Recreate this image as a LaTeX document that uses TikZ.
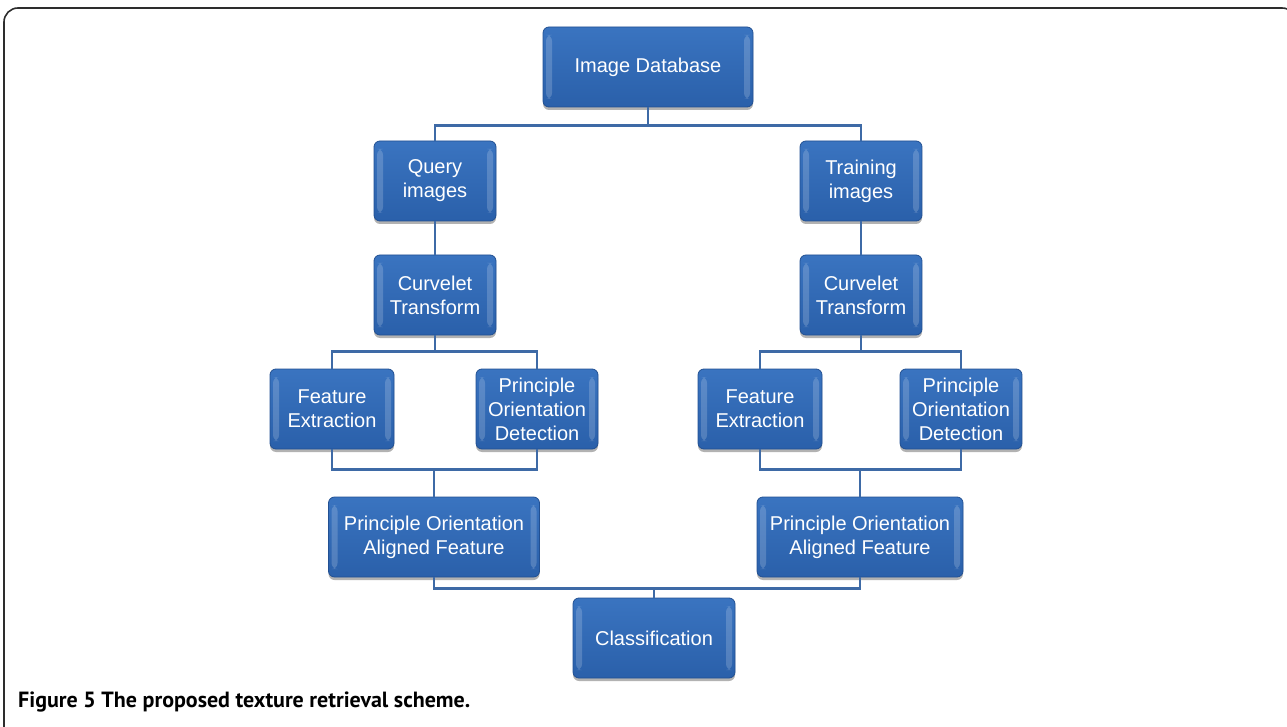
\documentclass[tikz,border=0pt]{standalone}
\usepackage{fontspec}
\setmainfont{Liberation Sans}
\newfontfamily\capfont{PT Sans}
\usetikzlibrary{positioning,shadows}

\definecolor{boxblue}{RGB}{42,96,170}
\definecolor{boxtop}{RGB}{58,116,192}
\definecolor{boxedge}{RGB}{34,80,146}
\definecolor{linkblue}{RGB}{62,106,166}
\definecolor{framegray}{RGB}{45,45,45}

\tikzset{
  stage/.style={rectangle, rounded corners=6pt, draw=boxedge, line width=0.8pt,
    top color=boxtop, bottom color=boxblue, text=white, align=center,
    minimum width=122pt, minimum height=80pt, inner sep=0pt,
    font=\fontsize{20}{24}\selectfont,
    drop shadow={shadow xshift=0pt, shadow yshift=-3pt, fill=black, opacity=0.3},
    path picture={
      \fill[white, opacity=0.18]
        ([xshift=3pt, yshift=-8pt]path picture bounding box.north west) rectangle
        ([xshift=9pt, yshift=8pt]path picture bounding box.south west);
      \fill[white, opacity=0.18]
        ([xshift=-3pt, yshift=-8pt]path picture bounding box.north east) rectangle
        ([xshift=-9pt, yshift=8pt]path picture bounding box.south east);
    }},
  link/.style={draw=linkblue, line width=2.8pt}
}

\begin{document}
\begin{tikzpicture}[x=1pt, y=-1pt, node distance=114pt]
  \useasboundingbox (0,0) rectangle (1287,727);
  % frame, open to the right and bottom
  \draw[framegray, line width=1.6pt, rounded corners=14pt]
    (4,760) -- (4,8) -- (1296,8) -- (1296,760);

  \node[stage, minimum width=210pt] (db) at (648,67) {Image Database};

  % query side
  \node[stage]                       (qry)    at (435,181)     {Query\\images};
  \node[stage]                       (qcurve) [below of=qry]   {Curvelet\\Transform};
  \node[stage, minimum width=124pt]  (qfeat)  at (332,409)     {Feature\\Extraction};
  \node[stage]                       (qpod)   at (537,409)     {Principle\\Orientation\\Detection};
  \node[stage, minimum width=211pt]  (qpoaf)  at (434,537)     {Principle Orientation\\Aligned Feature};

  % training side
  \node[stage]                       (trn)    at (861,181)     {Training\\images};
  \node[stage]                       (tcurve) [below of=trn]   {Curvelet\\Transform};
  \node[stage, minimum width=124pt]  (tfeat)  at (760,409)     {Feature\\Extraction};
  \node[stage]                       (tpod)   at (961,409)     {Principle\\Orientation\\Detection};
  \node[stage, minimum width=206pt]  (tpoaf)  at (860,537)     {Principle Orientation\\Aligned Feature};

  \node[stage, minimum width=162pt]  (cls)    at (654,638)     {Classification};

  \draw[link] (db.south) -- ++(0,18) -| (qry.north);
  \draw[link] (db.south) -- ++(0,18) -| (trn.north);
  \draw[link] (qry) -- (qcurve);
  \draw[link] (trn) -- (tcurve);
  \draw[link] (qcurve.south) -- ++(0,16) -| (qfeat.north);
  \draw[link] (qcurve.south) -- ++(0,16) -| (qpod.north);
  \draw[link] (tcurve.south) -- ++(0,16) -| (tfeat.north);
  \draw[link] (tcurve.south) -- ++(0,16) -| (tpod.north);
  \draw[link] (qfeat.south) -- ++(0,20) -| (qpoaf.north);
  \draw[link] (qpod.south)  -- ++(0,20) -| (qpoaf.north);
  \draw[link] (tfeat.south) -- ++(0,20) -| (tpoaf.north);
  \draw[link] (tpod.south)  -- ++(0,20) -| (tpoaf.north);
  \draw[link] (qpoaf.south) -- ++(0,11) -| (cls.north);
  \draw[link] (tpoaf.south) -- ++(0,11) -| (cls.north);

  \node[anchor=base west, inner sep=0pt, font=\capfont\bfseries\fontsize{22}{26}\selectfont]
    (caption) at (18,707) {Figure 5 The proposed texture retrieval scheme.};
\end{tikzpicture}
\end{document}
